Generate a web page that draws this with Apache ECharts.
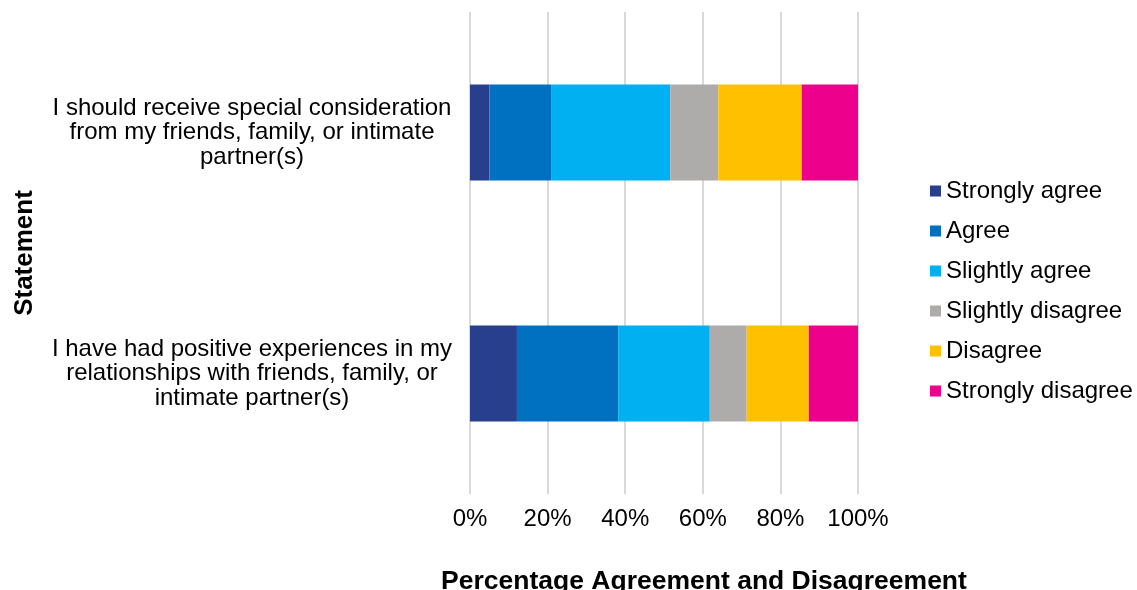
<!DOCTYPE html>
<html><head><meta charset="utf-8">
<script src="https://cdn.jsdelivr.net/npm/echarts@6/dist/echarts.min.js"></script>
<style>html,body{margin:0;padding:0;background:#fff}#c{width:1137px;height:590px}</style>
</head><body><div id="c"></div>
<script>
const categories = [
  "I should receive special consideration\nfrom my friends, family, or intimate\npartner(s)",
  "I have had positive experiences in my\nrelationships with friends, family, or\nintimate partner(s)"
];
const seriesNames = ["Strongly agree","Agree","Slightly agree","Slightly disagree","Disagree","Strongly disagree"];
const stronglyAgree = [5.0, 12.1];
const agree = [15.9, 26.1];
const slightlyAgree = [30.7, 23.6];
const slightlyDisagree = [12.4, 9.5];
const disagree = [21.5, 16.0];
const stronglyDisagree = [14.5, 12.7];
const xTicks = [0,20,40,60,80,100];
const colors = ["#273F8D","#0070C0","#00B0F0","#AEABAB","#FFC000","#EC008C"];

const values = [stronglyAgree, agree, slightlyAgree, slightlyDisagree, disagree, stronglyDisagree];
const font = "'Liberation Sans', Arial, Helvetica, sans-serif";
const chart = echarts.init(document.getElementById('c'));
chart.setOption({
  animation: false,
  color: colors,
  textStyle: {fontFamily: font, color: '#000'},
  title: [
    {text: 'Percentage Agreement and Disagreement', left: 699, top: 563, textAlign: 'center',
     textStyle: {fontFamily: font, fontSize: 26.5, fontWeight: 'bold', color: '#000'}},
  ],
  legend: {
    orient: 'vertical', left: 925, top: 174,
    itemWidth: 11, itemHeight: 11, itemGap: 16,
    icon: 'rect',
    textStyle: {fontFamily: font, fontSize: 24, color: '#000'},
    data: seriesNames
  },
  grid: {left: 470, right: 279, top: 12, bottom: 96, containLabel: false},
  xAxis: {
    type: 'value', min: 0, max: 100, interval: 20,
    axisLine: {show: false}, axisTick: {show: false},
    splitLine: {show: true, lineStyle: {color: '#d9d9d9', width: 2}},
    axisLabel: {formatter: v => xTicks.includes(v) ? v + '%' : '', fontSize: 24, color: '#000', margin: 13, fontFamily: font}
  },
  yAxis: {
    type: 'category', data: categories, inverse: true,
    name: 'Statement', nameLocation: 'middle', nameGap: 432, nameRotate: 90,
    nameTextStyle: {fontFamily: font, fontSize: 26, fontWeight: 'bold', color: '#000'},
    axisLine: {show: false}, axisTick: {show: false},
    axisLabel: {align: 'center', margin: 218, fontSize: 24, lineHeight: 24.5, color: '#000', fontFamily: font}
  },
  series: seriesNames.map((n, i) => ({
    name: n, type: 'bar', stack: 'total', data: values[i], barWidth: 96,
    itemStyle: {color: colors[i]}
  }))
});
</script></body></html>
